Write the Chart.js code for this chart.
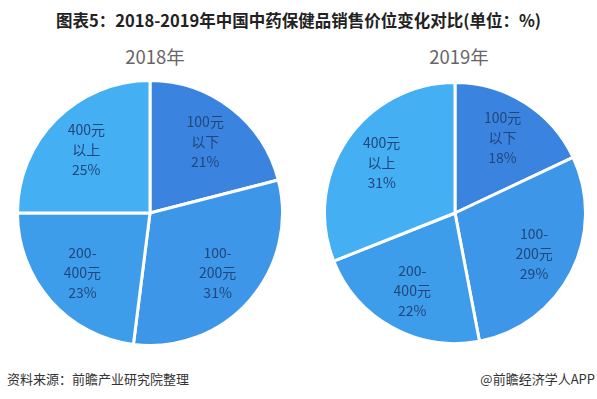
<!DOCTYPE html>
<html>
<head>
<meta charset="utf-8">
<script src="https://cdn.jsdelivr.net/npm/chart.js@4"></script>
<style>
  body { margin: 0; width: 597px; height: 399px; background: #fff; position: relative; overflow: hidden;
         font-family: "Noto Sans CJK SC", "Noto Sans", sans-serif; }
  .title { position: absolute; top: 8px; left: 0; width: 597px; text-align: center; font-size: 16.5px;
           font-weight: bold; color: #222; }
  .year { position: absolute; top: 43px; font-size: 18.5px; color: #666; width: 160px; text-align: center; }
  .foot { position: absolute; top: 369px; font-size: 13px; color: #333; }
  .box { position: absolute; }
</style>
</head>
<body>
<div class="title">图表5：2018-2019年中国中药保健品销售价位变化对比(单位：%)</div>
<div class="year" style="left:75px">2018年</div>
<div class="year" style="left:379px">2019年</div>
<div class="box" style="left:16px;top:79px;width:268px;height:268px"><canvas id="pie2018"></canvas></div>
<div class="box" style="left:323px;top:81px;width:264px;height:264px"><canvas id="pie2019"></canvas></div>
<div class="foot" style="left:7px">资料来源：前瞻产业研究院整理</div>
<div class="foot" style="right:2px">@前瞻经济学人APP</div>
<script>
// 价位分类（标签分行显示）
var categories = [["100元", "以下"], ["100-", "200元"], ["200-", "400元"], ["400元", "以上"]];
var values2018 = [21, 31, 23, 25];
var values2019 = [18, 29, 22, 31];
var colors = ["#3a84e0", "#3d96e8", "#3e9deb", "#44aff2"];

// 在扇区内部画标签 + 百分比
var sliceLabels = {
    id: 'sliceLabels',
    afterDatasetsDraw: function(chart) {
        var ctx = chart.ctx;
        var meta = chart.getDatasetMeta(0);
        ctx.save();
        ctx.fillStyle = '#22467a';
        ctx.font = '14px "Noto Sans CJK SC", sans-serif';
        ctx.textAlign = 'center';
        ctx.textBaseline = 'middle';
        meta.data.forEach(function(arc, i) {
            var p = arc.getProps(['x', 'y', 'startAngle', 'endAngle', 'outerRadius'], true);
            var mid = (p.startAngle + p.endAngle) / 2;
            var r = p.outerRadius * 0.68;
            var cx = p.x + Math.cos(mid) * r;
            var cy = p.y + Math.sin(mid) * r;
            var lines = categories[i].concat([chart.data.datasets[0].data[i] + '%']);
            lines.forEach(function(t, k) {
                ctx.fillText(t, cx, cy + (k - 1) * 20);
            });
        });
        ctx.restore();
    }
};

function makePie(id, values) {
    return new Chart(document.getElementById(id), {
        type: 'pie',
        data: {
            labels: categories.map(function(c) { return c.join(''); }),
            datasets: [{
                data: values,
                backgroundColor: colors,
                borderColor: '#ffffff',
                borderWidth: 3
            }]
        },
        options: {
            responsive: true,
            maintainAspectRatio: false,
            animation: false,
            layout: { padding: 0 },
            plugins: {
                legend: { display: false },
                tooltip: { enabled: false }
            }
        },
        plugins: [sliceLabels]
    });
}

makePie('pie2018', values2018);
makePie('pie2019', values2019);
</script>
</body>
</html>
